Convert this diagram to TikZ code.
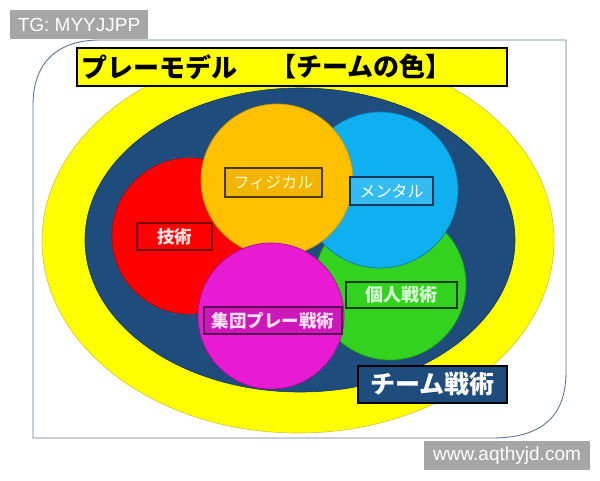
\documentclass[tikz,border=0pt]{standalone}
\usepackage{fontspec}
\newfontfamily\jp{Noto Sans CJK JP}
\newfontfamily\arial{Liberation Sans}
\definecolor{cyel}{HTML}{FFFF00}
\definecolor{cyelline}{HTML}{D2C23A}
\definecolor{cnavy}{HTML}{1D4C7D}
\definecolor{cnavyline}{HTML}{15385C}
\definecolor{cred}{HTML}{FF0000}
\definecolor{credline}{HTML}{C80000}
\definecolor{corange}{HTML}{FFC000}
\definecolor{corangeline}{HTML}{C89400}
\definecolor{cblue}{HTML}{10B0F0}
\definecolor{cblueline}{HTML}{0A7CB0}
\definecolor{cgreen}{HTML}{33D21E}
\definecolor{cgreenline}{HTML}{1E9A10}
\definecolor{cmag}{HTML}{E81BD2}
\definecolor{cmagline}{HTML}{A8109A}
\definecolor{cframe}{HTML}{5E7898}
\definecolor{cwm}{HTML}{A6A6A6}
\tikzset{
  lbl/.style={draw, line width=1.3pt, inner sep=0pt, font=\jp\bfseries},
  wm/.style={fill=cwm, text=white, inner sep=0pt, font=\arial\fontsize{19}{19}\selectfont},
  disc/.style={line width=0.7pt},
  ttl/.style={anchor=west, inner sep=0pt, font=\jp\bfseries\fontsize{26}{26}\selectfont}
}
\begin{document}
\begin{tikzpicture}[x=1pt,y=-1pt]
\useasboundingbox (0,0) rectangle (600,480);
\fill[white] (0,0) rectangle (600,480);
% frame
\coordinate (f1) at (33,105);
\coordinate (f2) at (100,40);
\coordinate (f3) at (566,40);
\coordinate (f4) at (566,372);
\coordinate (f5) at (492,438);
\coordinate (f6) at (33,438);
\draw[cframe, line width=0.9pt] (f1) .. controls (33,62) and (58,40) .. (f2) -- (f3) -- (f4)
  .. controls (566,418) and (540,438) .. (f5) -- (f6) -- cycle;
% ellipses
\filldraw[fill=cyel, draw=cyelline, line width=0.6pt] (298,241) ellipse [x radius=256pt, y radius=192pt];
\filldraw[fill=cnavy, draw=cnavyline, line width=0.6pt] (300,240) ellipse [x radius=215pt, y radius=152pt];
% circles
\filldraw[disc, fill=cgreen, draw=cgreenline] (390,284) circle [radius=76pt];
\filldraw[disc, fill=cblue, draw=cblueline] (380,190) circle [radius=78pt];
\filldraw[disc, fill=cred, draw=credline] (190,236) circle [radius=78pt];
\filldraw[disc, fill=corange, draw=corangeline] (277,180) circle [radius=76pt];
\filldraw[disc, fill=cmag, draw=cmagline] (271,316) circle [radius=73pt];
% title
\node[draw=black, line width=1.3pt, fill=cyel, minimum width=430pt, minimum height=38pt, inner sep=0pt] (title) at (292,67) {};
\node[ttl] (t1) at (81,67) {プレーモデル};
\node[ttl] (t2) at (270,67) {【チームの色】};
% labels
\node[lbl, fill=cred, draw=credline!60!black, text=white!90!red, minimum width=75pt, minimum height=27pt, font=\jp\bfseries\fontsize{17.5}{17.5}\selectfont] (gijutsu) at (174.5,236.5) {技術};
\node[lbl, fill=corange!95!black, draw=corange!30!black, text=white!80!yellow, minimum width=97pt, minimum height=29pt, font=\jp\fontsize{16}{16}\selectfont] (phys) at (273.5,182.5) {フィジカル};
\node[lbl, fill=cblue!85!white, draw=cnavyline, text=white, minimum width=83pt, minimum height=28pt, font=\jp\fontsize{16}{16}\selectfont] (mental) at (391.5,191) {メンタル};
\node[lbl, fill=cgreen, draw=cgreen!30!black, text=white!85!green, minimum width=111pt, minimum height=26pt, font=\jp\bfseries\fontsize{18}{18}\selectfont] (kojin) at (401.5,295) {個人戦術};
\node[lbl, fill=cmag!88!black, draw=cmag!40!black, text=white!88!magenta, minimum width=138pt, minimum height=27pt, font=\jp\bfseries\fontsize{17.5}{17.5}\selectfont] (shudan) at (273,320.5) {集団プレー戦術};
\node[lbl, fill=cnavy, draw=black, text=white, minimum width=149pt, minimum height=37pt, font=\jp\bfseries\fontsize{25}{25}\selectfont] (team) at (432.5,384.5) {チーム戦術};
% watermarks
\node[wm, minimum width=138pt, minimum height=29pt] (tg) at (79,24.5) {TG: MYYJJPP};
\node[wm, minimum width=166pt, minimum height=29pt] (www) at (507,455.5) {www.aqthyjd.com};
\end{tikzpicture}
\end{document}
